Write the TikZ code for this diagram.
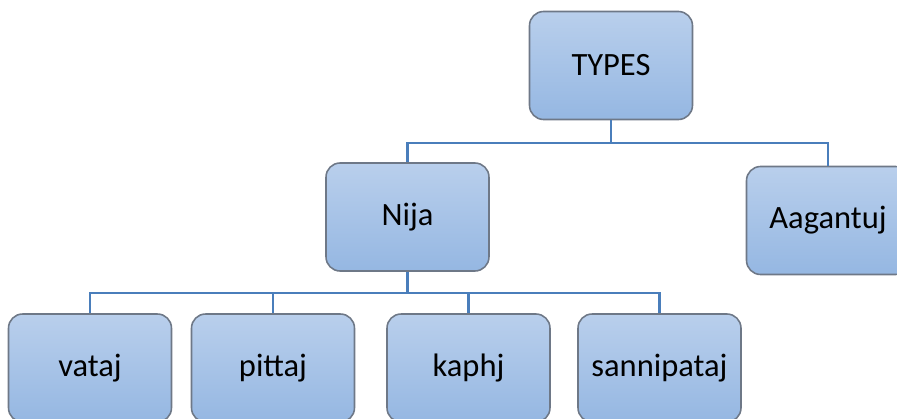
\documentclass[tikz,border=0pt]{standalone}
\usepackage{fontspec}
\setmainfont{Carlito}
\usetikzlibrary{positioning}
\definecolor{boxtop}{RGB}{185,207,236}
\definecolor{boxbot}{RGB}{149,183,226}
\definecolor{boxline}{RGB}{110,120,135}
\definecolor{linkblue}{RGB}{74,126,187}
\tikzset{
	box/.style={draw=boxline, line width=0.9pt, rounded corners=8pt,
		top color=boxtop, bottom color=boxbot,
		minimum width=3.26cm, minimum height=2.16cm,
		font=\fontsize{18.5}{21}\selectfont},
	link/.style={draw=linkblue, line width=1.7pt}
}
\begin{document}
\begin{tikzpicture}[x=0.02cm, y=-0.02cm]
	\useasboundingbox (0,0) rectangle (897,419);
	\node [box] (types) at (611,65.5) {TYPES};
	\node [box] (nija) at (407.5,217) {Nija};
	\node [box] (aagantuj) at (828,220.5) {Aagantuj};
	\node [box] (vataj) at (90,368) {vataj};
	\node [box] (pittaj) at (273,368) {pittaj};
	\node [box] (kaphj) at (468.5,368) {kaphj};
	\node [box] (sannipataj) at (659.5,368) {sannipataj};
	\coordinate (topbus) at (611,143);
	\coordinate (lowbus) at (407.5,293);
	\draw [link] (types.south) -- (topbus) -| (nija.north);
	\draw [link] (topbus) -| (aagantuj.north);
	\draw [link] (nija.south) -- (lowbus) -| (vataj.north);
	\draw [link] (lowbus) -| (pittaj.north);
	\draw [link] (lowbus) -| (kaphj.north);
	\draw [link] (lowbus) -| (sannipataj.north);
\end{tikzpicture}
\end{document}
